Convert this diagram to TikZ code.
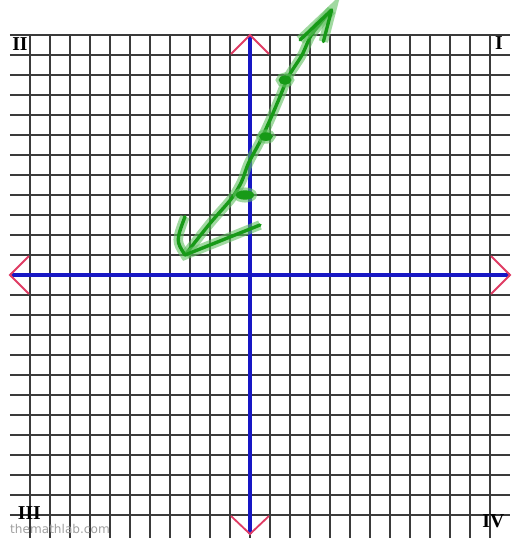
\documentclass[tikz,border=0pt]{standalone}
\usepackage{fontspec}
\usepackage{tikz}
\usetikzlibrary{arrows.meta,positioning,calc}
\newfontfamily\quadfont{Liberation Serif}
\newfontfamily\markfont{DejaVu Sans}
\definecolor{gridgray}{HTML}{3A3A3A}
\definecolor{axisblue}{HTML}{1717C4}
\definecolor{tipred}{HTML}{E03C64}
\definecolor{penlight}{HTML}{62C062}
\definecolor{pendark}{HTML}{179A17}
\definecolor{markgray}{HTML}{A0A0A0}
\tikzset{
  gridline/.style={draw=gridgray, line width=1.7pt},
  axisline/.style={draw=axisblue, line width=2.8pt},
  axistip/.style={draw=tipred, line width=1.3pt},
  penstroke/.style={
    draw=pendark, line width=2.4pt, line cap=round, line join=round,
    preaction={draw=penlight, line width=6.8pt, opacity=0.6}
  },
  pendot/.style={
    fill=pendark, draw=pendark, line width=1pt,
    preaction={draw=penlight, line width=5pt, opacity=0.6}
  },
  quadlabel/.style={font=\quadfont\bfseries\fontsize{14}{14}\selectfont, inner sep=0pt},
  marklabel/.style={font=\markfont\fontsize{8.6}{9}\selectfont, text=markgray, inner sep=0pt}
}

\begin{document}
\begin{tikzpicture}[x=0.5cm, y=0.5cm]
  \useasboundingbox[fill=white] (-12.5,-13.15) rectangle (13.25,13.75);

  % Grid
  \foreach \x in {-11,...,12} {
    \draw[gridline] (\x,12) -- (\x,-13.15);
  }
  \foreach \y in {-12,...,12} {
    \draw[gridline] (-12,\y) -- (13,\y);
  }

  % Axes
  \draw[axisline] (0,12) -- (0,-12.95);
  \draw[axisline] (-12,0) -- (13,0);

  % Axis ends
  \draw[axistip] (-0.95,11.05) -- (0,12) -- (0.95,11.05);
  \draw[axistip] (-0.95,-12.05) -- (0,-12.95) -- (0.95,-12.05);
  \draw[axistip] (-11.05,0.95) -- (-12,0) -- (-11.05,-0.95);
  \draw[axistip] (12.05,0.95) -- (13,0) -- (12.05,-0.95);

  % Quadrants
  \node[quadlabel] (q2) at (-11.5,11.56) {II};
  \node[quadlabel] (q1) at (12.45,11.58) {I};
  \node[quadlabel] (q3) at (-11.03,-11.88) {III};
  \node[quadlabel] (q4) at (12.17,-12.33) {IV};
  \node[marklabel] (site) at (-9.5,-12.68) {themathlab.com};

  % Hand-drawn line
  \draw[penstroke] plot[smooth, tension=0.5] coordinates {
    (-3.25,1.0) (-2.0,2.58) (-0.92,3.83) (-0.42,4.67) (-0.08,5.58)
    (0.5,6.67) (1.0,7.75) (1.5,8.92) (1.92,9.92) (2.6,11.0)
    (3.1,12.05) (4.08,13.25)};
  \draw[penstroke] (2.5,11.75) -- (4.08,13.25) -- (3.67,11.67);
  \draw[penstroke] (-3.25,2.92) .. controls (-3.7,1.7) .. (-3.25,1.0) -- (0.5,2.5);

  % Points on it
  \filldraw[pendot] (1.75,9.75) ellipse [x radius=0.28, y radius=0.2];
  \filldraw[pendot] (0.8,6.92) ellipse [x radius=0.3, y radius=0.18];
  \filldraw[pendot] (-0.25,4.0) ellipse [x radius=0.42, y radius=0.2];
\end{tikzpicture}
\end{document}
